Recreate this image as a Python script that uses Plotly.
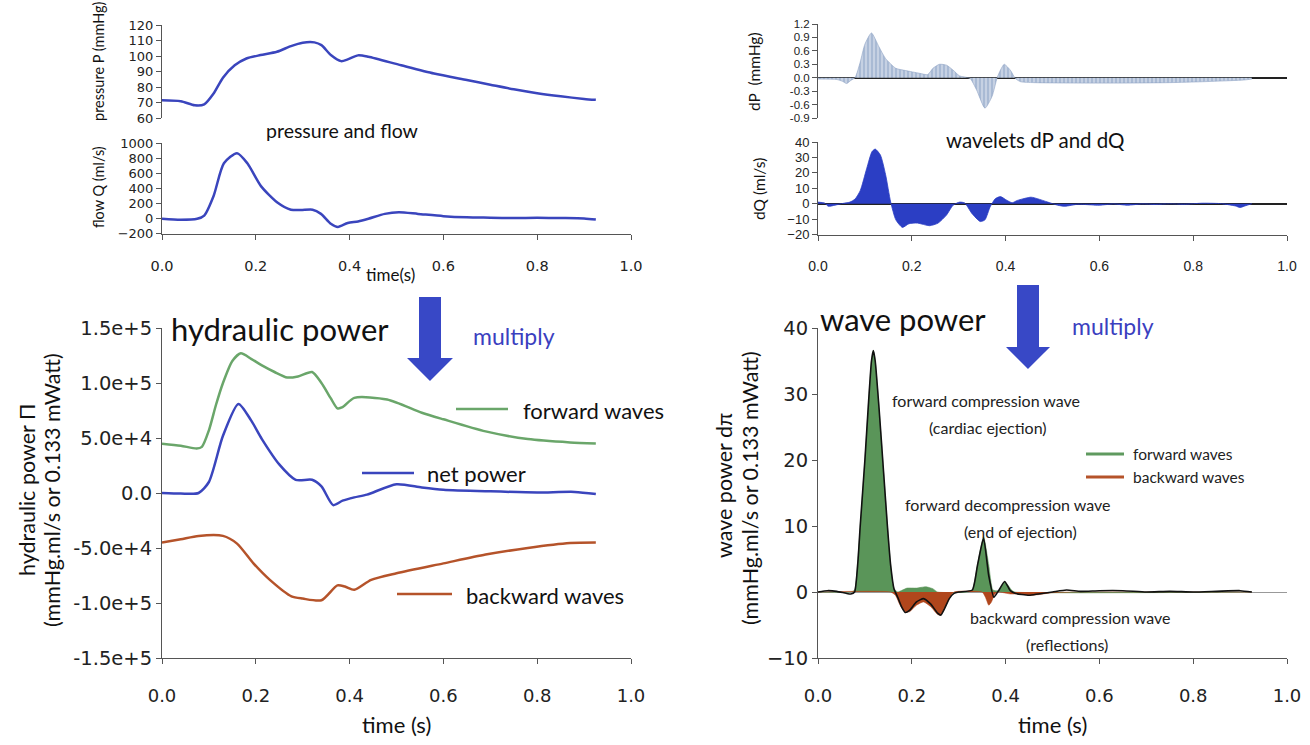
import plotly.graph_objects as go

W, H = 1310, 745

# ---------------- data ----------------
x_ticks = [0, 0.2, 0.4, 0.6, 0.8, 1.0]
x_ticktext = ["0.0", "0.2", "0.4", "0.6", "0.8", "1.0"]

# pressure and flow
t_p = [0, 0.04, 0.07, 0.09, 0.11, 0.13, 0.155, 0.18, 0.21, 0.245, 0.275, 0.3, 0.325, 0.34, 0.36,
       0.382, 0.396, 0.418, 0.44, 0.51, 0.58, 0.65, 0.7, 0.75, 0.8, 0.85, 0.9, 0.925]
pressure = [71.4, 70.8, 68.2, 68.8, 75.8, 86, 94, 98.4, 100.6, 102.7, 106.4, 108.6, 108.8, 107, 100.6,
            96.7, 97.8, 100.4, 99.5, 94, 88.7, 84.5, 81.5, 78.5, 76, 74, 72.3, 71.7]
p_ticks = [60, 70, 80, 90, 100, 110, 120]

t_q = [0, 0.04, 0.075, 0.09, 0.11, 0.132, 0.16, 0.182, 0.211, 0.246, 0.275, 0.296, 0.321, 0.339, 0.36,
       0.375, 0.396, 0.418, 0.44, 0.475, 0.505, 0.546, 0.6, 0.65, 0.7, 0.75, 0.8, 0.85, 0.9, 0.925]
flow = [-5, -18, -5, 38, 298, 731, 865, 731, 428, 211, 116, 111, 116, 60, -70,
        -113, -61, -40, -5, 60, 82, 60, 30, 15, 10, 5, 8, 5, 0, -15]
q_ticks = [-200, 0, 200, 400, 600, 800, 1000]

# wavelets dP and dQ
t_dp = [0, 0.04, 0.052, 0.061, 0.07, 0.079, 0.09, 0.1, 0.114, 0.13, 0.144, 0.166, 0.187, 0.216, 0.234,
        0.245, 0.259, 0.274, 0.288, 0.302, 0.324, 0.338, 0.356, 0.371, 0.382, 0.389, 0.397, 0.41, 0.421,
        0.432, 0.46, 0.56, 0.65, 0.75, 0.82, 0.87, 0.91, 0.925]
dP = [-0.03, -0.04, -0.08, -0.13, -0.06, 0.0, 0.35, 0.75, 1.0, 0.69, 0.43, 0.21, 0.16, 0.10, 0.07,
      0.21, 0.30, 0.28, 0.17, 0.04, -0.015, -0.27, -0.68, -0.42, 0.0, 0.17, 0.30, 0.17, -0.02,
      -0.09, -0.11, -0.12, -0.12, -0.11, -0.09, -0.07, -0.05, -0.03]
dp_ticks = [-0.9, -0.6, -0.3, 0.0, 0.3, 0.6, 0.9, 1.2]
dp_ticktext = ["-0.9", "-0.6", "-0.3", "0.0", "0.3", "0.6", "0.9", "1.2"]

t_dq = [0, 0.014, 0.022, 0.036, 0.05, 0.068, 0.079, 0.09, 0.104, 0.115, 0.122, 0.133, 0.144, 0.155,
        0.166, 0.18, 0.194, 0.212, 0.238, 0.256, 0.274, 0.288, 0.302, 0.313, 0.328, 0.346, 0.356,
        0.367, 0.378, 0.389, 0.403, 0.414, 0.425, 0.454, 0.468, 0.49, 0.511, 0.526, 0.554, 0.583,
        0.6, 0.63, 0.66, 0.69, 0.72, 0.75, 0.78, 0.82, 0.86, 0.89, 0.9, 0.91, 0.925]
dQ = [1, 0.4, -1.7, -1, 0, 1, 3, 8.4, 23, 33.7, 35.4, 31.6, 19, 1,
      -10.5, -15.4, -13, -12.6, -14.3, -12.6, -7.4, -1, 1, 0.4, -6.3, -11.6, -10.5,
      -2.1, 3.2, 4.6, 2.1, 0.6, 2.1, 4.2, 3.2, 1, -1, -1.7, -0.4, -0.8,
      -1, -0.2, -1, -0.2, -0.5, -0.1, -0.4, 0.3, 0, -1.5, -2.5, -1.5, 0]
dq_ticks = [-20, -10, 0, 10, 20, 30, 40]

# hydraulic power
t_hf = [0, 0.04, 0.074, 0.085, 0.1, 0.115, 0.13, 0.15, 0.168, 0.19, 0.213, 0.24, 0.267, 0.29, 0.32,
        0.34, 0.36, 0.374, 0.385, 0.41, 0.48, 0.554, 0.6, 0.69, 0.78, 0.87, 0.925]
fwd_hyd = [44800, 43000, 40500, 42000, 57000, 80000, 100000, 120000, 127000, 122000, 116000, 110000,
           105000, 106000, 110000, 100000, 86000, 77000, 78000, 86500, 85000, 73000, 67000, 56000,
           49000, 46000, 45000]
t_hn = [0, 0.04, 0.078, 0.1, 0.13, 0.163, 0.19, 0.213, 0.25, 0.285, 0.32, 0.34, 0.365, 0.385, 0.41,
        0.437, 0.5, 0.554, 0.6, 0.7, 0.8, 0.88, 0.925]
net_hyd = [0, -500, 0, 10000, 52000, 81000, 66000, 49000, 26000, 12000, 12000, 6000, -11000, -7000,
           -4000, -1500, 8000, 5000, 3000, 1500, 500, 1000, -1000]
t_hb = [0, 0.04, 0.078, 0.13, 0.16, 0.195, 0.23, 0.276, 0.30, 0.34, 0.374, 0.39, 0.41, 0.446, 0.5,
        0.6, 0.69, 0.78, 0.87, 0.925]
bwd_hyd = [-45000, -42000, -39000, -39000, -46000, -64000, -79000, -94000, -96000, -97500, -84000,
           -85000, -88000, -79000, -73000, -64000, -56000, -50000, -45500, -45000]
h_ticks = [-150000, -100000, -50000, 0, 50000, 100000, 150000]
h_ticktext = ["-1.5e+5", "-1.0e+5", "-5.0e+4", "0.0", "5.0e+4", "1.0e+5", "1.5e+5"]

# wave power
t_wf = [0, 0.07, 0.078, 0.085, 0.09, 0.1, 0.108, 0.114, 0.118, 0.122, 0.13, 0.14, 0.148, 0.155, 0.162,
        0.17, 0.18, 0.19, 0.21, 0.23, 0.245, 0.255, 0.32, 0.329, 0.34, 0.353, 0.364, 0.373, 0.385,
        0.398, 0.414, 0.42, 0.925]
fwd_wave = [0, 0, 0.3, 5, 10, 20, 29, 35, 36.6, 35, 28, 18, 10, 4, 0.5,
            0, 0.3, 0.6, 0.6, 0.8, 0.5, 0, 0, 0.3, 4.2, 8.4, 4.2, 0.3, 0.2,
            1.6, 0.2, 0, 0]
t_wb = [0, 0.155, 0.165, 0.175, 0.185, 0.195, 0.21, 0.225, 0.24, 0.255, 0.262, 0.27, 0.28, 0.29, 0.35,
        0.357, 0.364, 0.37, 0.377, 0.385, 0.41, 0.43, 0.45, 0.47, 0.5, 0.55, 0.925]
bwd_wave = [0, 0, -0.5, -2, -3.0, -3.0, -2, -1.5, -2.2, -3.4, -3.5, -2.5, -1, 0, 0,
            -0.8, -2.0, -1.5, -0.3, 0, -0.3, -0.3, -0.5, -0.4, -0.1, 0, 0]
t_wn = [0, 0.02, 0.04, 0.06, 0.07, 0.078, 0.085, 0.09, 0.1, 0.108, 0.114, 0.118, 0.122, 0.13, 0.14,
        0.148, 0.155, 0.162, 0.17, 0.178, 0.186, 0.195, 0.21, 0.225, 0.24, 0.255, 0.262, 0.27, 0.28,
        0.29, 0.3, 0.329, 0.34, 0.353, 0.364, 0.375, 0.385, 0.398, 0.41, 0.42, 0.45, 0.47, 0.5, 0.53,
        0.56, 0.6, 0.65, 0.7, 0.75, 0.8, 0.85, 0.9, 0.925]
net_wave = [0, 0.2, 0.1, -0.2, -0.3, 0, 4.5, 10, 20, 29, 35, 36.6, 35, 28, 18,
            10, 4, 0.5, -0.8, -2.2, -3.1, -2.8, -1.5, -1.0, -1.8, -3.2, -3.5, -2.5, -1,
            -0.2, 0, 0.3, 4, 8.2, 2.5, -0.8, 0.2, 1.6, 0.2, -0.2, -0.5, -0.3, 0, 0.3,
            0.1, 0.2, 0.2, 0, 0.1, 0, 0.1, 0.2, 0]
w_ticks = [-10, 0, 10, 20, 30, 40]

# ---------------- style ----------------
BLUE = "#3a45bd"
GREEN = "#6aa66a"
ORANGE = "#b5532a"
ARROW = "#3848c6"
AX = "#555555"
TICKF = "DejaVu Sans"
TEXTF = "Lato"


def px(x):
    return x / W


def py(y):
    return 1 - y / H


XL = [px(162), px(631)]
XR = [px(818), px(1287)]

fig = go.Figure()

def line(x, y, color, ax, width=2.5):
    fig.add_trace(go.Scatter(x=x, y=y, mode="lines", line=dict(color=color, width=width, shape="spline", smoothing=0.7),
                             xaxis=ax[0], yaxis=ax[1], showlegend=False, hoverinfo="skip"))

line(t_p, pressure, BLUE, ("x", "y"))
line(t_q, flow, BLUE, ("x2", "y2"))

fig.add_trace(go.Scatter(x=t_dp, y=dP, mode="lines", fill="tozeroy",
                         line=dict(color="#8ea3c4", width=0.6, shape="spline", smoothing=0.6),
                         fillcolor="#b3c2d9",
                         fillpattern=dict(shape="|", fgcolor="#8aa0c3", bgcolor="#c9d4e5", size=4, solidity=0.55),
                         xaxis="x3", yaxis="y3", showlegend=False, hoverinfo="skip"))
fig.add_trace(go.Scatter(x=t_dq, y=dQ, mode="lines", fill="tozeroy",
                         line=dict(color="#2b3ec4", width=0.8, shape="spline", smoothing=0.6),
                         fillcolor="#2b3ec4", xaxis="x4", yaxis="y4", showlegend=False, hoverinfo="skip"))

line(t_hf, fwd_hyd, GREEN, ("x5", "y5"))
line(t_hn, net_hyd, BLUE, ("x5", "y5"))
line(t_hb, bwd_hyd, ORANGE, ("x5", "y5"))

fig.add_trace(go.Scatter(x=t_wf, y=fwd_wave, mode="lines", fill="tozeroy",
                         line=dict(color="#5a9559", width=0.5, shape="spline", smoothing=0.5),
                         fillcolor="#5a9559", xaxis="x6", yaxis="y6", showlegend=False, hoverinfo="skip"))
fig.add_trace(go.Scatter(x=t_wb, y=bwd_wave, mode="lines", fill="tozeroy",
                         line=dict(color="#b0461c", width=0.5, shape="spline", smoothing=0.5),
                         fillcolor="#b0461c", xaxis="x6", yaxis="y6", showlegend=False, hoverinfo="skip"))
fig.add_trace(go.Scatter(x=t_wn, y=net_wave, mode="lines",
                         line=dict(color="#111111", width=1.6, shape="spline", smoothing=0.5),
                         xaxis="x6", yaxis="y6", showlegend=False, hoverinfo="skip"))

# ---------------- axes ----------------
def yax(domain, rng, tv, tt=None, size=14, family=TICKF, **kw):
    d = dict(domain=domain, range=rng, tickvals=tv, showline=True, linecolor=AX, linewidth=1,
             ticks="outside", ticklen=5, tickcolor=AX, showgrid=False, zeroline=False, automargin=False,
             tickfont=dict(family=family, size=size, color="#222"))
    if tt is not None:
        d["ticktext"] = tt
    d.update(kw)
    return d


def xax(domain, anchor, size=14, family=TICKF, standoff=14, visible=True):
    return dict(domain=domain, range=[0, 1], anchor=anchor, tickvals=x_ticks, ticktext=x_ticktext,
                showline=True, linecolor=AX, linewidth=1, ticks="outside", ticklen=5, tickcolor=AX,
                showgrid=False, zeroline=False, visible=visible, ticklabelstandoff=standoff, automargin=False,
                tickfont=dict(family=family, size=size, color="#222"))


fig.update_layout(
    width=W, height=H, autosize=False, margin=dict(l=0, r=0, t=0, b=0, pad=0, autoexpand=False),
    paper_bgcolor="white", plot_bgcolor="rgba(0,0,0,0)", showlegend=False,
    xaxis=xax(XL, "y", visible=False),
    yaxis=yax([py(118), py(25)], [60, 120], p_ticks, size=13, anchor="x"),
    xaxis2=xax(XL, "y2", size=14.5, standoff=14),
    yaxis2=yax([py(233.5), py(143)], [-200, 1000], q_ticks, size=13, anchor="x2"),
    xaxis3=xax(XR, "y3", visible=False),
    yaxis3=yax([py(118), py(24)], [-0.9, 1.2], dp_ticks, dp_ticktext, size=11.5, family="Liberation Sans",
               anchor="x3", zeroline=True, zerolinecolor="#222", zerolinewidth=1.5),
    xaxis4=xax(XR, "y4", size=14, family="Liberation Sans", standoff=14),
    yaxis4=yax([py(234.5), py(142)], [-20, 40], dq_ticks, size=13, family="Liberation Sans",
               anchor="x4", zeroline=True, zerolinecolor="#222", zerolinewidth=1.5),
    xaxis5=xax(XL, "y5", size=18, standoff=16),
    yaxis5=yax([py(658), py(328)], [-150000, 150000], h_ticks, h_ticktext, size=19.5, anchor="x5"),
    xaxis6=xax(XR, "y6", size=18, standoff=16),
    yaxis6=yax([py(658), py(328)], [-10, 40], w_ticks, size=19.5, anchor="x6",
               zeroline=True, zerolinecolor="#999", zerolinewidth=1),
)

# ---------------- text ----------------
anns = []

def ann(text, x, y, size, color="#111", family=TEXTF, angle=0, xanchor="center"):
    anns.append(dict(text=text, x=px(x), y=py(y), xref="paper", yref="paper", showarrow=False,
                     xanchor=xanchor, yanchor="middle", textangle=angle,
                     font=dict(size=size, color=color, family=family)))

ann("pressure P (mmHg)", 99, 61, 14.5, angle=-90)
ann("flow Q (ml/s)", 99, 187, 14.5, angle=-90)
ann("pressure and flow", 342, 131, 19.5)
ann("time(s)", 391, 274, 17)

ann("dP  (mmHg)", 754, 72, 15.5, angle=-90)
ann("dQ (ml/s)", 759, 189, 15.5, angle=-90)
ann("wavelets dP and dQ", 1035, 140, 20.5)

ann("hydraulic power", 169, 329, 31, xanchor="left")
ann("multiply", 514, 336, 23, color="#3b3fbf")
ann("hydraulic power \u03a0", 27, 490, 21.5, angle=-90)
ann("(mmHg.ml/s or 0.133 mWatt)", 52, 490, 21.5, angle=-90)
ann("time (s)", 396, 724, 22)

ann("forward waves", 521, 410, 22, xanchor="left")
ann("net power", 425, 473, 22, xanchor="left")
ann("backward waves", 464, 595, 22, xanchor="left")

ann("wave power", 818, 319, 31, xanchor="left")
ann("multiply", 1113, 326, 23, color="#3b3fbf")
ann("wave power d\u03c0", 724, 486, 21.5, angle=-90)
ann("(mmHg.ml/s or 0.133 mWatt)", 750, 488, 21.5, angle=-90)
ann("time (s)", 1052, 724, 22)
ann("forward compression wave", 986, 400, 16, color="#222")
ann("(cardiac ejection)", 988, 427, 16, color="#222")
ann("forward decompression wave", 1007, 504, 16, color="#222")
ann("(end of ejection)", 1020, 531, 16, color="#222")
ann("backward compression wave", 1070, 617, 16, color="#222")
ann("(reflections)", 1067, 644, 16, color="#222")
ann("forward waves", 1131, 454, 15.5, color="#222", xanchor="left")
ann("backward waves", 1131, 477, 15.5, color="#222", xanchor="left")

fig.update_layout(annotations=anns)

# ---------------- decorations ----------------
shapes = []

def seg(x0, x1, y, color, width=2.5):
    shapes.append(dict(type="line", xref="paper", yref="paper", x0=px(x0), x1=px(x1), y0=py(y), y1=py(y),
                       line=dict(color=color, width=width)))

def arrow(cx, top, head_top, tip, sw, hw):
    pts = [(cx - sw / 2, top), (cx + sw / 2, top), (cx + sw / 2, head_top), (cx + hw / 2, head_top),
           (cx, tip), (cx - hw / 2, head_top), (cx - sw / 2, head_top)]
    path = "M " + " L ".join(f"{px(a):.5f},{py(b):.5f}" for a, b in pts) + " Z"
    shapes.append(dict(type="path", xref="paper", yref="paper", path=path, fillcolor=ARROW,
                       line=dict(width=0)))

seg(456, 508, 409, GREEN)
seg(362, 414, 473, BLUE)
seg(397, 452, 594, ORANGE)
seg(1086, 1124, 454, "#5f9a5f", 3)
seg(1086, 1124, 477, "#b5532a", 3)
arrow(430, 297, 358, 381, 22, 46)
arrow(1028, 285, 347, 369, 22, 44)

fig.update_layout(shapes=shapes)

fig.write_html("out.html")
